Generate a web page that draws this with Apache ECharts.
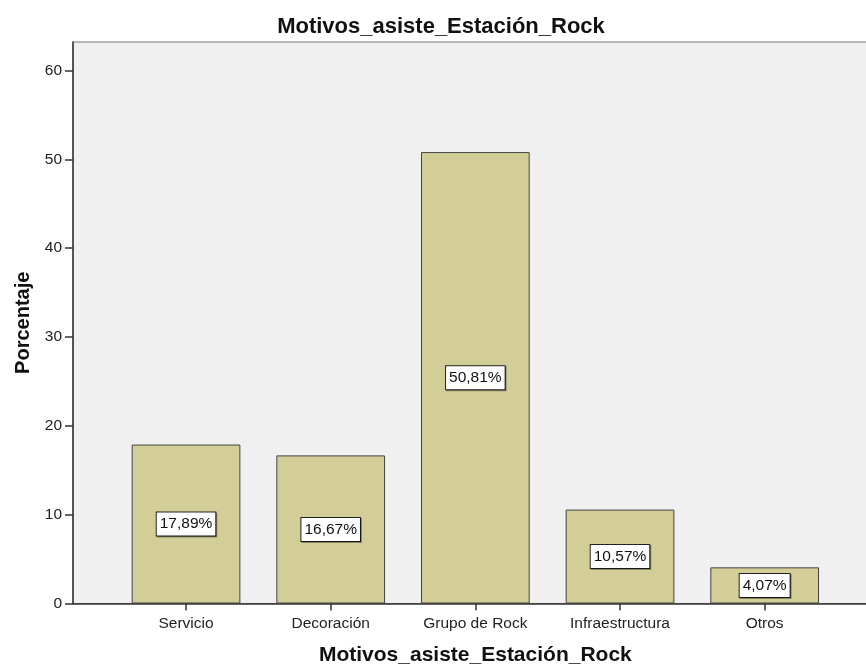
<!DOCTYPE html>
<html>
<head>
    <meta charset="utf-8">
    <title>Motivos_asiste_Estación_Rock</title>
    <script src="https://cdn.jsdelivr.net/npm/echarts@6/dist/echarts.min.js"></script>
    <style>
        html, body { margin: 0; padding: 0; background: #fff; }
    </style>
</head>
<body>
<div id="chart" style="width: 866px;height:666px;"></div>

<script>
    // datos
    var categorias = ['Servicio', 'Decoración', 'Grupo de Rock', 'Infraestructura', 'Otros'];
    var porcentajes = [17.89, 16.67, 50.81, 10.57, 4.07];
    var marcasY = [0, 10, 20, 30, 40, 50, 60];

    var fuente = '"Liberation Sans", Arial, sans-serif';
    var yMax = 63.2;

    var option = {
        animation: false,
        backgroundColor: '#fff',
        title: {
            text: 'Motivos_asiste_Estación_Rock',
            left: 436,
            top: 11,
            textAlign: 'center',
            textStyle: {
                fontFamily: fuente,
                fontWeight: 'bold',
                fontSize: 22,
                color: '#111'
            }
        },
        grid: [
            // marco y fondo gris
            {left: 73, top: 42, right: -20, bottom: 62.5, show: true, outerBoundsMode: 'none',
                containLabel: false,
                backgroundColor: '#f0f0f0', borderColor: '#777', borderWidth: 1},
            // zona de las barras
            {left: 113.7, top: 42, right: 29, bottom: 62.5, outerBoundsMode: 'none',
                containLabel: false}
        ],
        xAxis: [
            {
                type: 'value', gridIndex: 0, min: 0, max: 1,
                axisLine: {show: true, lineStyle: {color: '#333', width: 1.5}},
                axisTick: {show: false},
                axisLabel: {show: false},
                splitLine: {show: false}
            },
            {
                type: 'category', gridIndex: 1, data: categorias,
                axisLine: {show: false},
                axisTick: {show: true, alignWithLabel: true, length: 7,
                    lineStyle: {color: '#333', width: 1.5}},
                axisLabel: {margin: 12, fontFamily: fuente, fontSize: 15.5, color: '#222'},
                name: 'Motivos_asiste_Estación_Rock',
                nameLocation: 'middle',
                nameGap: 41,
                nameTextStyle: {fontFamily: fuente, fontWeight: 'bold', fontSize: 21, color: '#111'}
            }
        ],
        yAxis: [
            {
                type: 'value', gridIndex: 0, min: 0, max: yMax,
                axisLine: {show: true, lineStyle: {color: '#333', width: 1.5}},
                axisTick: {show: true, length: 8, customValues: marcasY,
                    lineStyle: {color: '#333', width: 1.5}},
                axisLabel: {customValues: marcasY, margin: 11, fontFamily: fuente,
                    fontSize: 15.5, color: '#222'},
                splitLine: {show: false},
                name: 'Porcentaje',
                nameLocation: 'middle',
                nameGap: 38,
                nameTextStyle: {fontFamily: fuente, fontWeight: 'bold', fontSize: 20, color: '#111'}
            },
            {
                type: 'value', gridIndex: 1, min: 0, max: yMax, show: false
            }
        ],
        series: [{
            type: 'bar',
            xAxisIndex: 1,
            yAxisIndex: 1,
            data: porcentajes,
            barWidth: 108.7,
            itemStyle: {color: '#d3ce97', borderColor: '#444', borderWidth: 1},
            label: {
                show: true,
                position: 'inside',
                formatter: function (p) {
                    return p.value.toFixed(2).replace('.', ',') + '%';
                },
                fontFamily: fuente,
                fontSize: 15.5,
                color: '#111',
                backgroundColor: '#fff',
                borderColor: '#222',
                borderWidth: 1,
                padding: [4, 3, 3, 3],
                shadowColor: 'rgba(0,0,0,0.35)',
                shadowOffsetX: 1,
                shadowOffsetY: 1,
                shadowBlur: 0
            },
            emphasis: {disabled: true}
        }]
    };

    echarts.init(document.getElementById('chart')).setOption(option);
</script>
</body>
</html>
